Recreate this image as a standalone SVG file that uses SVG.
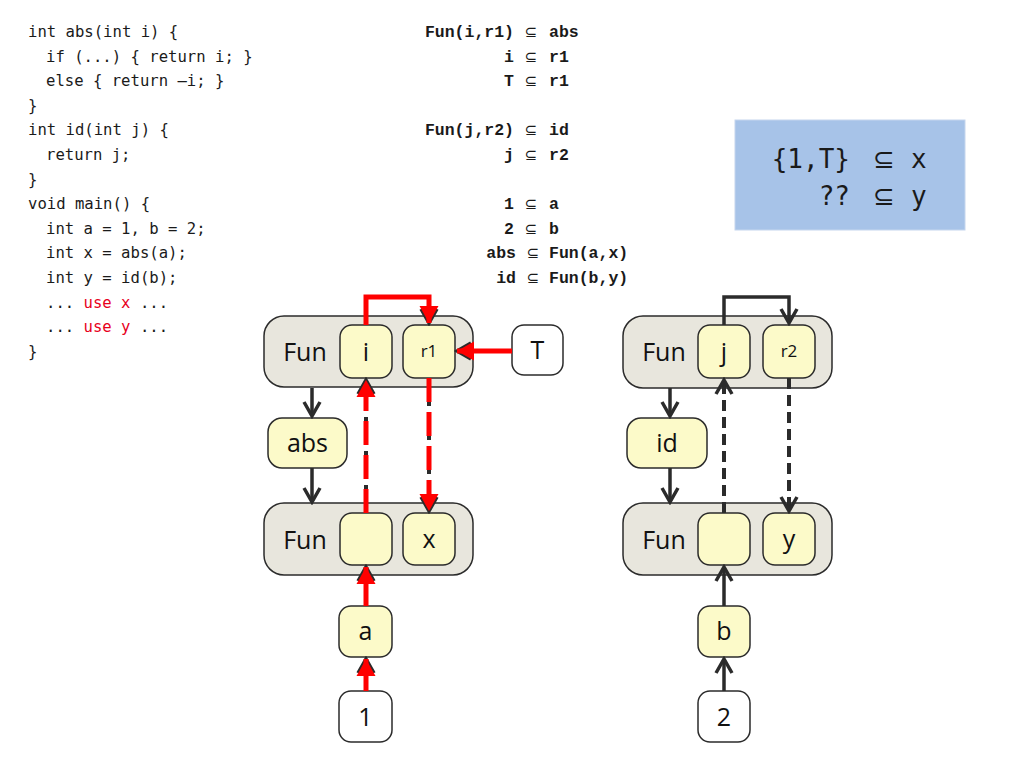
<svg xmlns="http://www.w3.org/2000/svg" width="1024" height="768" viewBox="0 0 1024 768">
<style>
.code{font-family:"DejaVu Sans Mono","Liberation Mono",monospace;font-size:15.6px;fill:#1a1a1a}
.red{fill:#e8001c}
.cons{font-family:"Liberation Mono","Courier New",monospace;font-weight:bold;font-size:16.5px;fill:#1a1a1a}
.sub{font-family:"DejaVu Sans",sans-serif;font-size:15px;fill:#1a1a1a}
.big{font-family:"DejaVu Sans Mono",monospace;font-size:26px;fill:#1a1a1a}
.bigsub{font-family:"DejaVu Sans",sans-serif;font-size:26px;fill:#1a1a1a}
.outer{fill:#e8e6dd;stroke:#2b2b2b;stroke-width:1.5}
.inner{fill:#fcfac9;stroke:#2b2b2b;stroke-width:1.5}
.white{fill:#ffffff;stroke:#2b2b2b;stroke-width:1.5}
.lbl{font-family:"Open Sans","Noto Sans",sans-serif;font-size:25px;fill:#111;text-anchor:middle}
.lbls{font-family:"Open Sans","Noto Sans",sans-serif;font-size:17px;fill:#111;text-anchor:middle}
.blk{fill:none;stroke:#2b2b2b;stroke-width:3.5}
.blkd{fill:none;stroke:#2b2b2b;stroke-width:4;stroke-dasharray:11 6}
.rd{fill:none;stroke:#ff0000;stroke-width:5}
.rdd{fill:none;stroke:#ff0000;stroke-width:5;stroke-dasharray:24 10}
</style>
<defs>
<marker id="chev" viewBox="0 0 20 20" refX="17" refY="10" markerWidth="20" markerHeight="20" markerUnits="userSpaceOnUse" orient="auto">
<path d="M3,2 L17,10 L3,18" fill="none" stroke="#2b2b2b" stroke-width="3.5" stroke-linejoin="miter"/>
</marker>
<marker id="tri" viewBox="0 0 20 20" refX="18" refY="10" markerWidth="20" markerHeight="20" markerUnits="userSpaceOnUse" orient="auto">
<path d="M1,0.5 L18,10 L1,19.5 Z" fill="#ff0000"/>
</marker>
</defs>

<g id="code">
<text class="code" x="28" y="37">int abs(int i) {</text>
<text class="code" x="46" y="61.6">if (...) { return i; }</text>
<text class="code" x="46" y="86.2">else { return –i; }</text>
<text class="code" x="28" y="110.8">}</text>
<text class="code" x="28" y="135.4">int id(int j) {</text>
<text class="code" x="46" y="160">return j;</text>
<text class="code" x="28" y="184.6">}</text>
<text class="code" x="28" y="209.2">void main() {</text>
<text class="code" x="46" y="233.8">int a = 1, b = 2;</text>
<text class="code" x="46" y="258.4">int x = abs(a);</text>
<text class="code" x="46" y="283">int y = id(b);</text>
<text class="code" x="46" y="307.6">... <tspan class="red">use x</tspan> ...</text>
<text class="code" x="46" y="332.2">... <tspan class="red">use y</tspan> ...</text>
<text class="code" x="28" y="356.8">}</text>
</g>

<g id="constraints">
<text class="cons" x="514" y="37" text-anchor="end">Fun(i,r1)</text><text class="sub" x="531" y="37" text-anchor="middle">⊆</text><text class="cons" x="549" y="37">abs</text>
<text class="cons" x="514" y="61.6" text-anchor="end">i</text><text class="sub" x="531" y="61.6" text-anchor="middle">⊆</text><text class="cons" x="549" y="61.6">r1</text>
<text class="cons" x="514" y="86.2" text-anchor="end">T</text><text class="sub" x="531" y="86.2" text-anchor="middle">⊆</text><text class="cons" x="549" y="86.2">r1</text>
<text class="cons" x="514" y="135.4" text-anchor="end">Fun(j,r2)</text><text class="sub" x="531" y="135.4" text-anchor="middle">⊆</text><text class="cons" x="549" y="135.4">id</text>
<text class="cons" x="514" y="160" text-anchor="end">j</text><text class="sub" x="531" y="160" text-anchor="middle">⊆</text><text class="cons" x="549" y="160">r2</text>
<text class="cons" x="514" y="209.2" text-anchor="end">1</text><text class="sub" x="531" y="209.2" text-anchor="middle">⊆</text><text class="cons" x="549" y="209.2">a</text>
<text class="cons" x="514" y="233.8" text-anchor="end">2</text><text class="sub" x="531" y="233.8" text-anchor="middle">⊆</text><text class="cons" x="549" y="233.8">b</text>
<text class="cons" x="516" y="258.4" text-anchor="end">abs</text><text class="sub" x="533" y="258.4" text-anchor="middle">⊆</text><text class="cons" x="549" y="258.4">Fun(a,x)</text>
<text class="cons" x="516" y="283" text-anchor="end">id</text><text class="sub" x="533" y="283" text-anchor="middle">⊆</text><text class="cons" x="549" y="283">Fun(b,y)</text>
</g>

<g id="result">
<rect x="735" y="120" width="230" height="110" fill="#a7c3e8" stroke="#c5d6ee" stroke-width="1"/>
<text class="big" x="850" y="168" text-anchor="end">{1,T}</text><text class="bigsub" x="884" y="168" text-anchor="middle">⊆</text><text class="big" x="911" y="168">x</text>
<text class="big" x="850" y="205" text-anchor="end">??</text><text class="bigsub" x="884" y="205" text-anchor="middle">⊆</text><text class="big" x="911" y="205">y</text>
</g>

<!-- left cluster -->
<g id="funAbs">
<rect class="outer" x="264" y="316" width="209" height="71" rx="20"/>
<text class="lbl" x="305" y="361">Fun</text>
</g>
<g id="i"><rect class="inner" x="340" y="325" width="52" height="53" rx="12"/><text class="lbl" x="366" y="361">i</text></g>
<g id="r1"><rect class="inner" x="403" y="325" width="52" height="53" rx="12"/><text class="lbls" x="429" y="357">r1</text></g>
<g id="T"><rect class="white" x="512" y="325" width="51" height="50" rx="12"/><text class="lbl" x="537.5" y="359">T</text></g>
<g id="abs"><rect class="inner" x="268" y="418" width="79" height="50" rx="14"/><text class="lbl" x="307.5" y="452">abs</text></g>
<g id="funAX">
<rect class="outer" x="264" y="503" width="209" height="72" rx="20"/>
<text class="lbl" x="305" y="549">Fun</text>
</g>
<g id="argA"><rect class="inner" x="340" y="513" width="52" height="52" rx="12"/></g>
<g id="x"><rect class="inner" x="403" y="513" width="52" height="52" rx="12"/><text class="lbl" x="429" y="548">x</text></g>
<g id="a"><rect class="inner" x="339" y="606" width="53" height="51" rx="12"/><text class="lbl" x="365.5" y="640">a</text></g>
<g id="one"><rect class="white" x="339" y="691" width="53" height="51" rx="12"/><text class="lbl" x="365.5" y="726">1</text></g>

<!-- right cluster -->
<g id="funId">
<rect class="outer" x="623" y="316" width="209" height="72" rx="20"/>
<text class="lbl" x="664" y="361">Fun</text>
</g>
<g id="j"><rect class="inner" x="698" y="325" width="52" height="53" rx="12"/><text class="lbl" x="724" y="361">j</text></g>
<g id="r2"><rect class="inner" x="763" y="325" width="52" height="53" rx="12"/><text class="lbls" x="789" y="357">r2</text></g>
<g id="id"><rect class="inner" x="627" y="418" width="80" height="50" rx="14"/><text class="lbl" x="667" y="452">id</text></g>
<g id="funBY">
<rect class="outer" x="623" y="503" width="209" height="72" rx="20"/>
<text class="lbl" x="664" y="549">Fun</text>
</g>
<g id="argB"><rect class="inner" x="698" y="513" width="52" height="52" rx="12"/></g>
<g id="y"><rect class="inner" x="763" y="513" width="52" height="52" rx="12"/><text class="lbl" x="789" y="548">y</text></g>
<g id="b"><rect class="inner" x="698" y="606" width="52" height="51" rx="12"/><text class="lbl" x="724" y="640">b</text></g>
<g id="two"><rect class="white" x="698" y="691" width="52" height="51" rx="12"/><text class="lbl" x="724" y="726">2</text></g>

<g id="connectors">
<!-- left black -->
<line class="blk" x1="312" y1="388" x2="312" y2="416" marker-end="url(#chev)"/>
<line class="blk" x1="312" y1="468" x2="312" y2="502" marker-end="url(#chev)"/>
<path class="blk" d="M366,325 V297 H429 V323" marker-end="url(#chev)"/>
<line class="blk" x1="512" y1="351" x2="457" y2="351" marker-end="url(#chev)"/>
<line class="blkd" x1="366" y1="513" x2="366" y2="380" marker-end="url(#chev)"/>
<line class="blkd" x1="429" y1="378" x2="429" y2="511" marker-end="url(#chev)"/>
<line class="blk" x1="366" y1="606" x2="366" y2="567" marker-end="url(#chev)"/>
<line class="blk" x1="366" y1="691" x2="366" y2="659" marker-end="url(#chev)"/>
<!-- left red overlay -->
<path class="rd" d="M366,325 V297 H429 V323" marker-end="url(#tri)"/>
<line class="rd" x1="512" y1="351" x2="457" y2="351" marker-end="url(#tri)"/>
<line class="rdd" x1="366" y1="513" x2="366" y2="380" marker-end="url(#tri)"/>
<line class="rdd" x1="429" y1="378" x2="429" y2="511" marker-end="url(#tri)"/>
<line class="rd" x1="366" y1="606" x2="366" y2="567" marker-end="url(#tri)"/>
<line class="rd" x1="366" y1="691" x2="366" y2="659" marker-end="url(#tri)"/>
<!-- right black -->
<line class="blk" x1="670" y1="388" x2="670" y2="416" marker-end="url(#chev)"/>
<line class="blk" x1="670" y1="468" x2="670" y2="502" marker-end="url(#chev)"/>
<path class="blk" d="M724,325 V297 H789 V323" marker-end="url(#chev)"/>
<line class="blkd" x1="724" y1="513" x2="724" y2="380" marker-end="url(#chev)"/>
<line class="blkd" x1="789" y1="378" x2="789" y2="511" marker-end="url(#chev)"/>
<line class="blk" x1="724" y1="606" x2="724" y2="567" marker-end="url(#chev)"/>
<line class="blk" x1="724" y1="691" x2="724" y2="659" marker-end="url(#chev)"/>
</g>
</svg>
